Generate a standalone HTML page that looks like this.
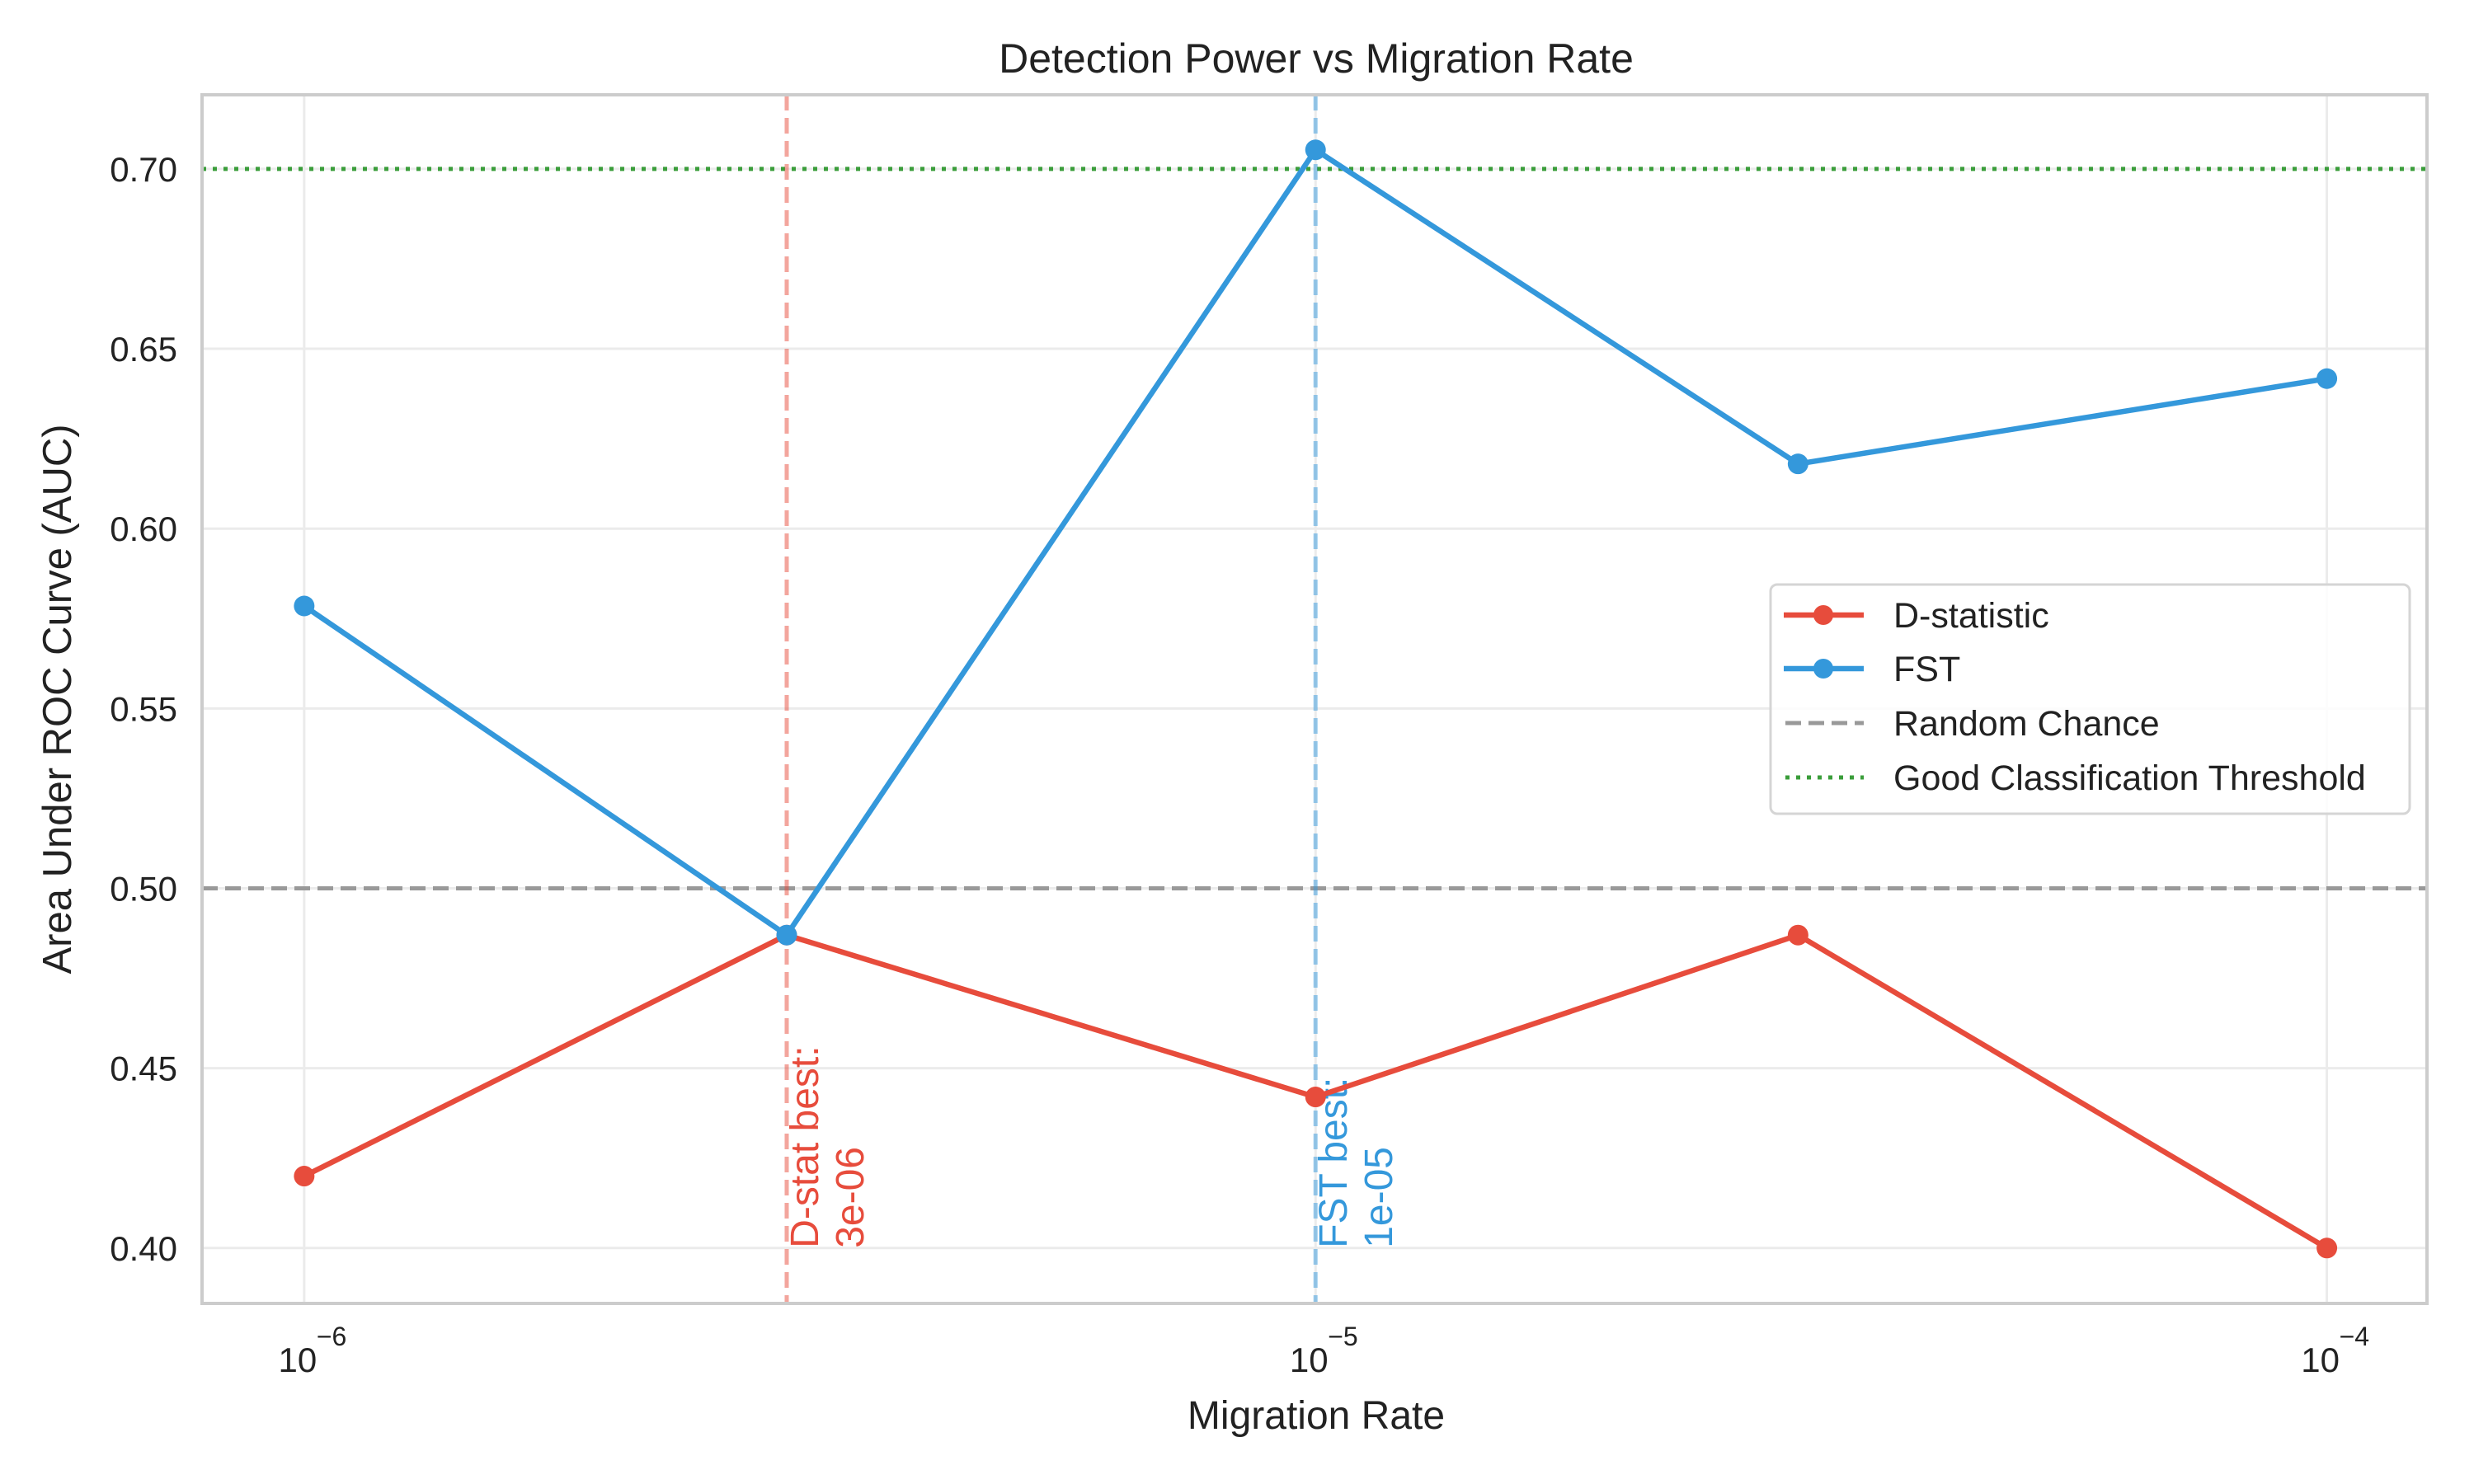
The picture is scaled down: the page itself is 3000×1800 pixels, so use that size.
<!DOCTYPE html>
<html><head><meta charset="utf-8"><style>
html,body{margin:0;padding:0;background:#fff}
svg{display:block;font-family:"Liberation Sans",sans-serif}
</style></head><body>
<svg id="chart" width="3000" height="1800" viewBox="0 0 3000 1800" xmlns="http://www.w3.org/2000/svg">
<rect width="3000" height="1800" fill="#fff"/>
<g id="grid"></g>
<g id="refs"></g>
<g id="series"></g>
<rect x="245" y="115" width="2698" height="1466" fill="none" stroke="#ccc" stroke-width="4"/>
<g id="ticks"></g>
<text x="1596" y="88" font-size="50" text-anchor="middle" fill="#222">Detection Power vs Migration Rate</text>
<text x="1596" y="1733" font-size="48" text-anchor="middle" fill="#222">Migration Rate</text>
<text x="86" y="848" font-size="49" text-anchor="middle" fill="#222" transform="rotate(-90 86 848)">Area Under ROC Curve (AUC)</text>
<g>
<rect x="2147" y="709" width="775" height="278" rx="8" fill="#fff" fill-opacity="0.85" stroke="#d5d5d5" stroke-width="3"/>
<g>
<line x1="2163" y1="746" x2="2260" y2="746" stroke="#e74c3c" stroke-width="6.5"/><circle cx="2211" cy="746" r="12" fill="#e74c3c"/>
<text x="2296" y="761" font-size="43" fill="#222">D-statistic</text></g>
<g>
<line x1="2163" y1="811" x2="2260" y2="811" stroke="#3498db" stroke-width="6.5"/><circle cx="2211" cy="811" r="12" fill="#3498db"/>
<text x="2296" y="826" font-size="43" fill="#222">FST</text></g>
<g>
<line x1="2165" y1="877" x2="2260" y2="877" stroke="#999" stroke-width="5" stroke-dasharray="19 9"/>
<text x="2296" y="892" font-size="43" fill="#222">Random Chance</text></g>
<g>
<line x1="2165" y1="943" x2="2260" y2="943" stroke="#3a9d3a" stroke-width="5" stroke-dasharray="5 8"/>
<text x="2296" y="958" font-size="43" fill="#222">Good Classification Threshold</text></g>
</g>
</svg>
<script>
const xValues = [1e-6, 3e-6, 1e-5, 3e-5, 1e-4];
const dStat = [0.420, 0.487, 0.442, 0.487, 0.400];
const fst = [0.5785, 0.487, 0.7053, 0.618, 0.6417];
const yTicks = [0.40, 0.45, 0.50, 0.55, 0.60, 0.65, 0.70];
const yTickLabels = ["0.40","0.45","0.50","0.55","0.60","0.65","0.70"];
const xTickExps = [-6, -5, -4];
const randomChance = 0.5;
const goodThreshold = 0.7;
const dBestX = 3e-6, dBestLabel = "3e-06";
const fBestX = 1e-5, fBestLabel = "1e-05";

const L=245,R=2943,T=115,B=1581;
const lmin=-6.101,lmax=-3.901,ymin=0.3846,ymax=0.7206;
const X=v=>L+(Math.log10(v)-lmin)/(lmax-lmin)*(R-L);
const Y=v=>B-(v-ymin)/(ymax-ymin)*(B-T);
const NS="http://www.w3.org/2000/svg";
function mk(tag,attrs,parent){const e=document.createElementNS(NS,tag);for(const k in attrs)e.setAttribute(k,attrs[k]);parent.appendChild(e);return e;}
const grid=document.getElementById('grid'),ticks=document.getElementById('ticks'),refs=document.getElementById('refs'),series=document.getElementById('series');
yTicks.forEach((v,i)=>{
  const g=mk('line',{x1:L,x2:R,y1:Y(v),y2:Y(v),stroke:'#ebebeb','stroke-width':3},grid);
  
  
  const t=mk('text',{x:L-30,y:Y(v)+15,'font-size':42,'text-anchor':'end',fill:'#222'},ticks);
  t.textContent=yTickLabels[i];
  
  
});
xTickExps.forEach(e=>{
  const x=X(Math.pow(10,e));
  const g=mk('line',{x1:x,x2:x,y1:T,y2:B,stroke:'#ebebeb','stroke-width':3},grid);
  
  
  const t=mk('text',{x:x-8,y:1664,'font-size':42,'text-anchor':'middle',fill:'#222'},ticks);
  t.textContent='10';
  
  
  const s=mk('text',{x:x+15,y:1632,'font-size':32,'text-anchor':'start',fill:'#222'},ticks);
  s.textContent='\u2212'+Math.abs(e);
  
  
});
function hline(v,color,dash,name){const l=mk('line',{x1:L,x2:R,y1:Y(v),y2:Y(v),stroke:color,'stroke-width':5,'stroke-dasharray':dash},refs);
  
  }
hline(randomChance,'#999','19 9','random-chance-line');
hline(goodThreshold,'#3a9d3a','5 8','good-threshold-line');
function vline(xv,color,label,head,name){
  const x=X(xv);
  const l=mk('line',{x1:x,x2:x,y1:T,y2:B,stroke:color,'stroke-opacity':0.5,'stroke-width':5,'stroke-dasharray':'19 9'},refs);
  
  
  const y0=Y(0.40);
  const t1=mk('text',{x:0,y:0,'font-size':48,fill:color,transform:`translate(${x+38},${y0}) rotate(-90)`},refs);
  t1.textContent=head;
  
  
  const t2=mk('text',{x:0,y:0,'font-size':48,fill:color,transform:`translate(${x+93},${y0}) rotate(-90)`},refs);
  t2.textContent=label;
  
  
}
vline(dBestX,'#e74c3c',dBestLabel,'D-stat best:','d-stat-best-line');
vline(fBestX,'#3498db',fBestLabel,'FST best:','fst-best-line');
function drawSeries(vals,color,name){
  const pts=xValues.map((x,i)=>X(x)+','+Y(vals[i])).join(' ');
  const p=mk('polyline',{points:pts,fill:'none',stroke:color,'stroke-width':6.5,'stroke-linejoin':'round'},series);
  
  
  xValues.forEach((x,i)=>{
    const c=mk('circle',{cx:X(x),cy:Y(vals[i]),r:12.5,fill:color},series);
    
    
  });
}
drawSeries(dStat,'#e74c3c','d-statistic');
drawSeries(fst,'#3498db','fst');
</script>
</body></html>
